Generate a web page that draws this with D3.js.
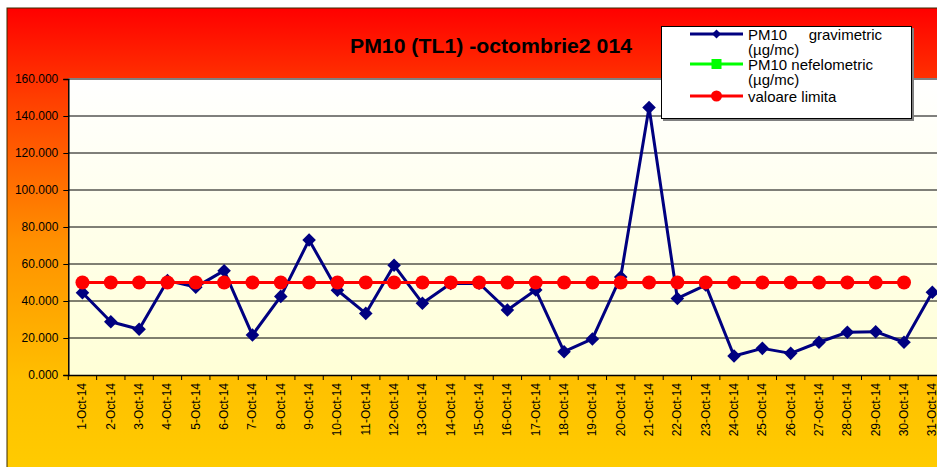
<!DOCTYPE html>
<html>
<head>
<meta charset="utf-8">
<script src="https://cdn.jsdelivr.net/npm/d3@7"></script>
<style>
  html, body { margin: 0; padding: 0; background: #fff; }
  svg { display: block; font-family: "Liberation Sans", Arial, sans-serif; }
</style>
</head>
<body>
<svg id="chart" width="937" height="467"></svg>
<script>
// ---- data ----
const categories = ["1-Oct-14","2-Oct-14","3-Oct-14","4-Oct-14","5-Oct-14","6-Oct-14","7-Oct-14","8-Oct-14","9-Oct-14","10-Oct-14","11-Oct-14","12-Oct-14","13-Oct-14","14-Oct-14","15-Oct-14","16-Oct-14","17-Oct-14","18-Oct-14","19-Oct-14","20-Oct-14","21-Oct-14","22-Oct-14","23-Oct-14","24-Oct-14","25-Oct-14","26-Oct-14","27-Oct-14","28-Oct-14","29-Oct-14","30-Oct-14","31-Oct-14"];
const gravimetric = [44.5, 28.8, 24.7, 51.0, 47.5, 56.4, 21.6, 42.5, 73.0, 45.8, 33.3, 59.3, 38.8, 49.5, 49.6, 35.1, 45.9, 12.6, 19.5, 53.0, 144.6, 41.4, 48.6, 10.3, 14.4, 11.7, 17.7, 23.1, 23.4, 17.7, 44.7];
const nefelometric = [];
const limitValues = [50,50,50,50,50,50,50,50,50,50,50,50,50,50,50,50,50,50,50,50,50,50,50,50,50,50,50,50,50,50];
const yTicks = [0, 20, 40, 60, 80, 100, 120, 140, 160];
const title = "PM10 (TL1) -octombrie2 014";
const legendLabels = [["PM10", "gravimetric", "(µg/mc)"], ["PM10 nefelometric", "", "(µg/mc)"], ["valoare limita", "", ""]];

// ---- layout ----
const svg = d3.select("#chart");
const W = 937, H = 467;
const plot = { left: 68.3, top: 79, right: 946.5, bottom: 375 };

const defs = svg.append("defs");
const bg = defs.append("linearGradient").attr("id", "bgGrad").attr("x1", 0).attr("y1", 0).attr("x2", 0).attr("y2", 1);
bg.append("stop").attr("offset", "0%").attr("stop-color", "#FF0000");
bg.append("stop").attr("offset", "20%").attr("stop-color", "#FF4000");
bg.append("stop").attr("offset", "50%").attr("stop-color", "#FF9000");
bg.append("stop").attr("offset", "80%").attr("stop-color", "#FFC000");
bg.append("stop").attr("offset", "100%").attr("stop-color", "#FFCC00");
const pg = defs.append("linearGradient").attr("id", "plotGrad").attr("x1", 0).attr("y1", 0).attr("x2", 0).attr("y2", 1);
pg.append("stop").attr("offset", "0%").attr("stop-color", "#FFFFFF");
pg.append("stop").attr("offset", "100%").attr("stop-color", "#FFFFD6");

// chart area background
svg.append("rect").attr("x", 7).attr("y", 8).attr("width", W).attr("height", H)
  .attr("fill", "url(#bgGrad)").attr("stroke", "#3a2a00").attr("stroke-width", 1);

// plot area
svg.append("rect").attr("x", plot.left).attr("y", plot.top)
  .attr("width", plot.right - plot.left).attr("height", plot.bottom - plot.top)
  .attr("fill", "url(#plotGrad)");
svg.append("line").attr("x1", plot.left).attr("x2", plot.right)
  .attr("y1", plot.top).attr("y2", plot.top).attr("stroke", "#808080").attr("stroke-width", 2);

const x = d3.scaleBand().domain(categories).range([plot.left, plot.right]).paddingInner(0).paddingOuter(0);
const y = d3.scaleLinear().domain([0, 160]).range([plot.bottom, plot.top]);
const cx = d => x(d) + x.bandwidth() / 2;

// gridlines
svg.append("g").selectAll("line").data(yTicks.filter(t => t > 0 && t < 160)).join("line")
  .attr("x1", plot.left).attr("x2", plot.right)
  .attr("y1", d => y(d)).attr("y2", d => y(d))
  .attr("stroke", "#000").attr("stroke-width", 1);

// y axis
const yAxis = svg.append("g").attr("transform", `translate(${plot.left},0)`)
  .call(d3.axisLeft(y).tickValues(yTicks).tickSize(5).tickPadding(5).tickFormat(d3.format(".3f")));
yAxis.select(".domain").attr("stroke", "#000").attr("stroke-width", 1.5);
yAxis.selectAll(".tick line").attr("stroke", "#000");
yAxis.selectAll(".tick text").attr("font-size", "12px").attr("fill", "#000")
  .attr("font-family", "'Liberation Sans', Arial, sans-serif");

// x axis
const xAxis = svg.append("g").attr("transform", `translate(0,${plot.bottom})`)
  .call(d3.axisBottom(x).tickSize(0).tickPadding(0));
xAxis.select(".domain").attr("stroke", "#000").attr("stroke-width", 1.5);
xAxis.selectAll(".tick text")
  .attr("font-size", "12px").attr("fill", "#000")
  .attr("font-family", "'Liberation Sans', Arial, sans-serif")
  .attr("text-anchor", "end")
  .attr("transform", "translate(4,8) rotate(-90)")
  .attr("dy", 0).attr("y", 0).attr("x", 0);
// tick marks at band boundaries
svg.append("g").selectAll("line").data(categories).join("line")
  .attr("x1", d => x(d)).attr("x2", d => x(d))
  .attr("y1", plot.bottom).attr("y2", plot.bottom + 5)
  .attr("stroke", "#000").attr("stroke-width", 1);

// gravimetric series
const lineG = d3.line().x((d, i) => cx(categories[i])).y(d => y(d));
svg.append("path").datum(gravimetric).attr("d", lineG)
  .attr("fill", "none").attr("stroke", "#000080").attr("stroke-width", 3).attr("stroke-linejoin", "round");
const diamond = d3.symbol().type(d3.symbolSquare).size(92);
svg.append("g").selectAll("path").data(gravimetric).join("path")
  .attr("d", diamond)
  .attr("transform", (d, i) => `translate(${cx(categories[i])},${y(d)}) rotate(45)`)
  .attr("fill", "#000080");

// limit series
svg.append("path").datum(limitValues).attr("d", lineG)
  .attr("fill", "none").attr("stroke", "#FF0000").attr("stroke-width", 3);
svg.append("g").selectAll("circle").data(limitValues).join("circle")
  .attr("cx", (d, i) => cx(categories[i])).attr("cy", d => y(d)).attr("r", 7)
  .attr("fill", "#FF0000");

// title
svg.append("text").attr("x", 491).attr("y", 53).attr("text-anchor", "middle")
  .attr("font-size", "21px").attr("font-weight", "bold").attr("fill", "#000")
  .attr("textLength", 282).attr("lengthAdjust", "spacingAndGlyphs")
  .text(title);

// legend
const lg = svg.append("g");
lg.append("rect").attr("x", 663).attr("y", 28).attr("width", 251).attr("height", 93).attr("fill", "#808080");
lg.append("rect").attr("x", 661.5).attr("y", 26.5).attr("width", 250).attr("height", 92)
  .attr("fill", "#fff").attr("stroke", "#000").attr("stroke-width", 1);
const legendY = [34, 64, 96];
const legendColors = ["#000080", "#00FF00", "#FF0000"];
legendY.forEach((ly, i) => {
  lg.append("line").attr("x1", 690).attr("x2", 743).attr("y1", ly).attr("y2", ly)
    .attr("stroke", legendColors[i]).attr("stroke-width", 3);
});
lg.append("path").attr("d", d3.symbol().type(d3.symbolSquare).size(40))
  .attr("transform", `translate(716.5,${legendY[0]}) rotate(45)`).attr("fill", "#000080");
lg.append("rect").attr("x", 711.5).attr("y", legendY[1] - 5).attr("width", 10).attr("height", 10).attr("fill", "#00FF00");
lg.append("circle").attr("cx", 716.5).attr("cy", legendY[2]).attr("r", 5.5).attr("fill", "#FF0000");

const tStyle = s => s.attr("font-size", "15px").attr("fill", "#000");
legendLabels.forEach((lab, i) => {
  const base = legendY[i] + 5.5;
  tStyle(lg.append("text").attr("x", 748).attr("y", base).text(lab[0]));
  if (lab[1]) tStyle(lg.append("text").attr("x", 882).attr("y", base).attr("text-anchor", "end").text(lab[1]));
  if (lab[2]) tStyle(lg.append("text").attr("x", 748).attr("y", base + 15).text(lab[2]));
});
</script>
</body>
</html>
